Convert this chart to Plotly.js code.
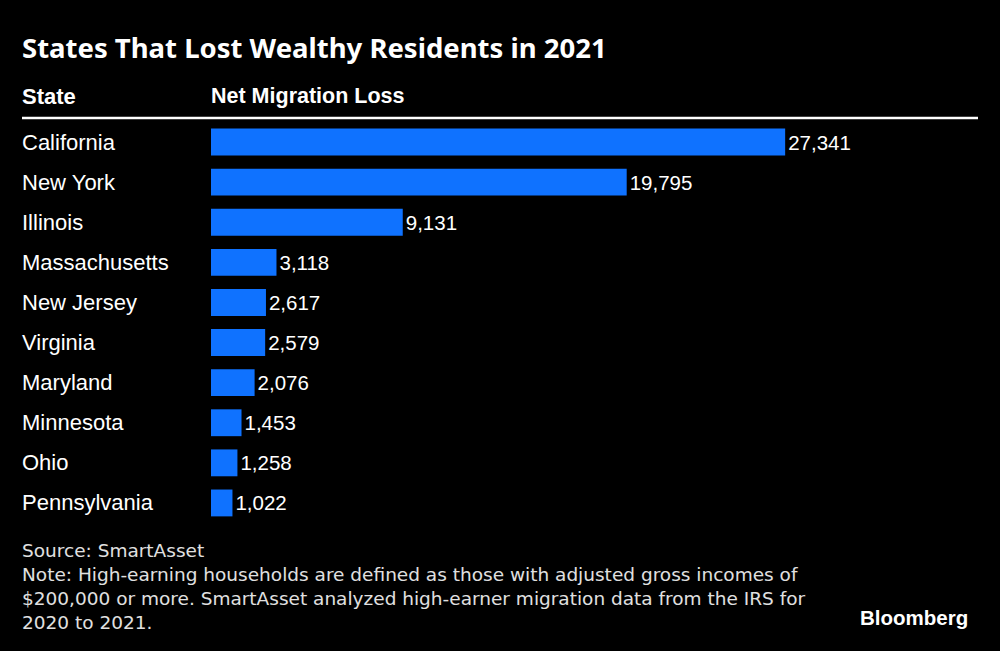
<!DOCTYPE html>
<html><head><meta charset="utf-8">
<script src="https://cdn.plot.ly/plotly-3.0.1.min.js"></script>
<style>html,body{margin:0;padding:0;background:#000;}#chart{width:1000px;height:651px;}</style>
</head><body><div id="chart"></div>
<script>
const states = ["California","New York","Illinois","Massachusetts","New Jersey","Virginia","Maryland","Minnesota","Ohio","Pennsylvania"];
const netLoss = [27341,19795,9131,3118,2617,2579,2076,1453,1258,1022];
const footLines = [
  "Source: SmartAsset",
  "Note: High-earning households are defined as those with adjusted gross incomes of",
  "$200,000 or more. SmartAsset analyzed high-earner migration data from the IRS for",
  "2020 to 2021."
];
const barColor = "#0f72ff";

const L = 211, R = 159, T = 122, B = 128;
const plotW = 1000 - L - R;
const plotH = 651 - T - B;
const px = p => (p - L) / plotW;       // page x -> paper x
const py = p => (651 - B - p) / plotH; // page y -> paper y

const trace = {
  type: "bar", orientation: "h",
  x: netLoss, y: states,
  marker: {color: barColor},
  text: netLoss.map(v => v.toLocaleString("en-US")),
  textposition: "outside", cliponaxis: false,
  textfont: {family: "Liberation Sans, Arial", size: 20.5, color: "#fff"},
  hoverinfo: "none"
};

const annotations = states.map(s => ({
  xref: "paper", yref: "y", x: px(20), y: s, xanchor: "left", yanchor: "middle",
  text: s, showarrow: false,
  font: {family: "Liberation Sans, Arial", size: 22, color: "#fff"}
}));
annotations.push(
  {xref:"paper", yref:"paper", x:px(20), y:py(48), xanchor:"left", yanchor:"middle", showarrow:false,
   text:"<b>States That Lost Wealthy Residents in 2021</b>", font:{family:"Noto Sans", size:27.5, color:"#fff"}},
  {xref:"paper", yref:"paper", x:px(20), y:py(96), xanchor:"left", yanchor:"middle", showarrow:false,
   text:"<b>State</b>", font:{family:"Liberation Sans, Arial", size:22, color:"#fff"}},
  {xref:"paper", yref:"paper", x:px(209), y:py(96), xanchor:"left", yanchor:"middle", showarrow:false,
   text:"<b>Net Migration Loss</b>", font:{family:"Liberation Sans, Arial", size:21.5, color:"#fff"}},
  {xref:"paper", yref:"paper", x:px(970), y:py(617), xanchor:"right", yanchor:"middle", showarrow:false,
   text:"<b>Bloomberg</b>", font:{family:"Liberation Sans, Arial", size:20.5, color:"#fff"}},
  {xref:"paper", yref:"paper", x:px(20), y:py(538), xanchor:"left", yanchor:"top", showarrow:false, align:"left",
   text: footLines.join("<br>"), font:{family:"DejaVu Sans", size:18.5, color:"#e0e0e0"}}
);

const layout = {
  width: 1000, height: 651,
  paper_bgcolor: "#000", plot_bgcolor: "#000",
  margin: {l: L, r: R, t: T, b: B, pad: 0},
  showlegend: false,
  bargap: 0.33,
  xaxis: {range: [0, 30000], visible: false, fixedrange: true},
  yaxis: {autorange: "reversed", showticklabels: false, showgrid: false, zeroline: false, showline: false, ticks: "", fixedrange: true},
  shapes: [{type:"line", xref:"paper", yref:"paper", x0:px(22), x1:px(978), y0:py(118), y1:py(118), line:{color:"#fff", width:2.5}}],
  annotations: annotations
};

Plotly.newPlot("chart", [trace], layout, {displayModeBar: false, staticPlot: true});
</script>
</body></html>
